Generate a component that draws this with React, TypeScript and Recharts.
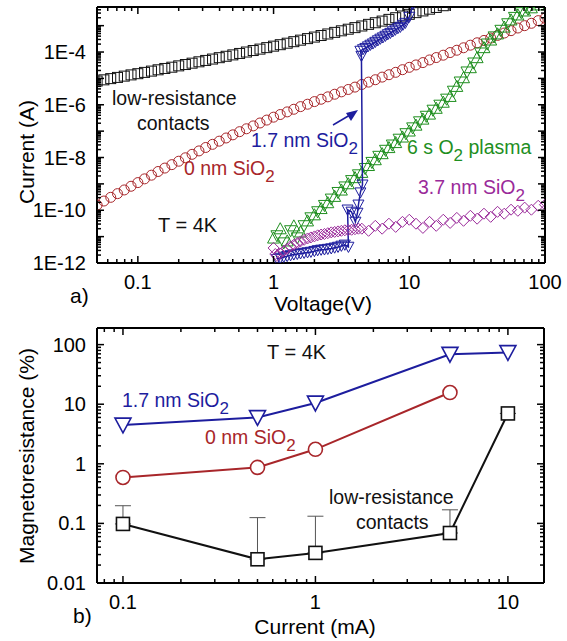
import React from 'react'
import { ScatterChart, Scatter, XAxis, YAxis, ErrorBar } from 'recharts'

const FONT = '"Liberation Sans", Arial, Helvetica, sans-serif'
const BLACK = '#111111'
const RED = '#a8262a'
const BLUE = '#1d1d9e'
const GREEN = '#1f8f1f'
const PURPLE = '#9a2a9a'

// ---- panel a: I-V sweeps at 4 K ----
// log-spaced voltage grid of the sweeps (V)
const sweepVoltage = [
  0.0501, 0.0562, 0.0631, 0.0708, 0.0794, 0.0891, 0.1, 0.112, 0.126, 0.141,
  0.158, 0.178, 0.2, 0.224, 0.251, 0.282, 0.316, 0.355, 0.398, 0.447,
  0.501, 0.562, 0.631, 0.708, 0.794, 0.891, 1, 1.12, 1.26, 1.41,
  1.58, 1.78, 2, 2.24, 2.51, 2.82, 3.16, 3.55, 3.98, 4.47,
  5.01, 5.62, 6.31, 7.08, 7.94, 8.91, 10, 11.2, 12.6, 14.1,
  15.8, 17.8, 20, 22.4, 25.1, 28.2, 31.6, 35.5, 39.8, 44.7,
  50.1, 56.2, 63.1, 70.8, 79.4, 89.1, 100,
]

// low-resistance contacts (A), from sweepVoltage[0]
const contactsCurrent = [
  7.94e-6, 8.83e-6, 9.82e-6, 1.09e-5, 1.22e-5, 1.36e-5, 1.51e-5, 1.69e-5, 1.89e-5, 2.12e-5,
  2.38e-5, 2.66e-5, 2.99e-5, 3.36e-5, 3.78e-5, 4.26e-5, 4.8e-5, 5.41e-5, 6.11e-5, 6.9e-5,
  7.8e-5, 8.83e-5, 1.0e-4, 1.14e-4, 1.29e-4, 1.47e-4, 1.67e-4, 1.9e-4, 2.16e-4, 2.47e-4,
  2.82e-4, 3.23e-4, 3.69e-4, 4.23e-4, 4.84e-4, 5.56e-4, 6.38e-4, 7.33e-4, 8.43e-4, 9.72e-4,
  1.12e-3, 1.29e-3, 1.49e-3, 1.73e-3, 2.0e-3, 2.32e-3, 2.69e-3, 3.12e-3, 3.62e-3, 4.22e-3,
  4.9e-3, 5.71e-3,
]

// 0 nm SiO2 (A), from sweepVoltage[0]
const plainCurrent = [
  1.58e-10, 2.24e-10, 3.09e-10, 4.27e-10, 5.89e-10, 8.13e-10, 1.12e-9, 1.55e-9, 2.14e-9, 2.95e-9,
  3.98e-9, 5.37e-9, 7.24e-9, 9.77e-9, 1.32e-8, 1.78e-8, 2.4e-8, 3.16e-8, 4.17e-8, 5.5e-8,
  7.24e-8, 9.55e-8, 1.23e-7, 1.58e-7, 2.04e-7, 2.63e-7, 3.39e-7, 4.27e-7, 5.37e-7, 6.76e-7,
  8.51e-7, 1.05e-6, 1.32e-6, 1.62e-6, 2.0e-6, 2.51e-6, 3.09e-6, 3.8e-6, 4.68e-6, 5.89e-6,
  7.24e-6, 8.91e-6, 1.12e-5, 1.38e-5, 1.7e-5, 2.14e-5, 2.63e-5, 3.24e-5, 3.98e-5, 5.01e-5,
  6.17e-5, 7.59e-5, 9.55e-5, 1.17e-4, 1.45e-4, 1.82e-4, 2.24e-4, 2.75e-4, 3.39e-4, 4.27e-4,
  5.25e-4, 6.46e-4, 8.13e-4, 1.0e-3, 1.23e-3, 1.55e-3, 1.91e-3,
]

// 6 s O2 plasma, up sweep (A), from sweepVoltage[26] = 1 V
const plasmaUpCurrent = [
  8.91e-12, 2.0e-11, 6.92e-12, 2.57e-11, 1.51e-11, 3.98e-11, 6.76e-11, 1.17e-10, 1.95e-10, 3.39e-10,
  5.89e-10, 1.02e-9, 1.74e-9, 2.75e-9, 5.01e-9, 8.32e-9, 1.41e-8, 2.4e-8, 3.72e-8, 6.03e-8,
  1.02e-7, 1.7e-7, 2.88e-7, 4.47e-7, 7.41e-7, 1.26e-6, 2.09e-6, 5.01e-6, 1.07e-5, 2.57e-5,
  6.17e-5, 1.48e-4, 2.88e-4, 4.9e-4, 8.91e-4, 1.66e-3, 2.57e-3, 3.63e-3, 4.79e-3, 6.17e-3,
]

// 6 s O2 plasma, down sweep
const plasmaDownVoltage = [
  1.059, 1.189, 1.334, 1.496, 1.679, 1.884, 2.113, 2.371, 2.661, 2.985,
  3.35, 3.758, 4.217, 4.732, 5.309, 5.957, 6.683, 7.499, 8.414, 9.441,
  10.59, 11.89, 13.34, 14.96, 16.79, 18.84, 21.13, 23.71, 26.61, 29.85,
  33.5, 37.58, 42.17, 47.32, 53.09, 59.57, 66.83, 74.99,
]
const plasmaDownCurrent = [
  1.07e-11, 5.75e-12, 1.66e-11, 8.91e-12, 2.57e-11, 5.13e-11, 8.71e-11, 1.51e-10, 2.63e-10, 4.68e-10,
  7.59e-10, 1.32e-9, 2.19e-9, 3.8e-9, 6.46e-9, 1.1e-8, 1.86e-8, 2.95e-8, 4.9e-8, 7.94e-8,
  1.32e-7, 2.24e-7, 3.63e-7, 6.17e-7, 9.55e-7, 1.62e-6, 3.24e-6, 7.24e-6, 1.74e-5, 3.8e-5,
  9.12e-5, 2.0e-4, 3.72e-4, 6.61e-4, 1.17e-3, 2.04e-3, 3.09e-3, 4.17e-3,
]

// 1.7 nm SiO2, in measurement order (switches near 4.4 V)
const thinOxideVoltage = [
  1.059, 1.12, 1.189, 1.26, 1.334, 1.41, 1.496, 1.58, 1.679, 1.78,
  1.884, 2.0, 2.113, 2.24, 2.371, 2.51, 2.661, 2.82, 2.985, 3.16,
  3.35, 3.56, 3.51, 3.75, 4.01, 4.15, 4.22, 4.36, 4.52, 4.44,
  4.36, 4.56, 4.75, 4.96, 5.17, 5.4, 5.62, 5.87, 6.12, 6.39,
  6.67, 6.95, 7.25, 7.57, 7.89, 8.24, 8.59, 8.97, 9.35, 10.0,
  10.7,
]
const thinOxideCurrent = [
  1.41e-12, 1.55e-12, 1.7e-12, 1.82e-12, 1.95e-12, 2.09e-12, 2.19e-12, 2.29e-12, 2.4e-12, 2.51e-12,
  2.63e-12, 2.82e-12, 3.02e-12, 3.16e-12, 3.24e-12, 3.39e-12, 3.55e-12, 3.8e-12, 4.07e-12, 4.47e-12,
  4.9e-12, 4.07e-12, 1.05e-10, 8.71e-11, 3.63e-11, 7.94e-11, 1.62e-10, 4.68e-10, 9.33e-10, 7.08e-5,
  1.1e-4, 1.26e-4, 1.41e-4, 1.62e-4, 1.86e-4, 2.09e-4, 2.4e-4, 2.75e-4, 3.16e-4, 3.55e-4,
  4.07e-4, 4.68e-4, 5.25e-4, 6.03e-4, 6.92e-4, 7.94e-4, 8.91e-4, 1.07e-3, 1.26e-3, 2.14e-3,
  6.76e-3,
]

// 3.7 nm SiO2
const thickOxideVoltage = [
  1.0, 1.03, 1.059, 1.12, 1.189, 1.26, 1.334, 1.41, 1.496, 1.58,
  1.679, 1.78, 1.884, 2.0, 2.113, 2.24, 2.371, 2.51, 2.661, 2.82,
  2.985, 3.16, 3.35, 3.55, 3.758, 3.98, 4.217, 4.47, 5.01, 5.62,
  6.31, 7.08, 7.94, 8.91, 10, 11.2, 12.6, 14.1, 15.8, 17.8,
  20, 22.4, 25.1, 28.2, 31.6, 35.5, 39.8, 44.7, 50.1, 56.2,
  63.1, 70.8, 79.4, 89.1, 100,
]
const thickOxideCurrent = [
  3.72e-12, 2.19e-12, 1.86e-12, 2.29e-12, 2.88e-12, 3.47e-12, 4.27e-12, 4.9e-12, 5.75e-12, 6.61e-12,
  7.59e-12, 8.51e-12, 9.33e-12, 1.02e-11, 1.12e-11, 1.2e-11, 1.26e-11, 1.35e-11, 1.45e-11, 1.51e-11,
  1.58e-11, 1.66e-11, 1.74e-11, 1.78e-11, 1.82e-11, 1.91e-11, 2.0e-11, 2.0e-11, 1.66e-11, 2.57e-11,
  2.0e-11, 3.09e-11, 2.34e-11, 3.63e-11, 4.37e-11, 3.09e-11, 2.14e-11, 3.63e-11, 2.57e-11, 4.37e-11,
  3.31e-11, 5.13e-11, 3.98e-11, 6.17e-11, 4.79e-11, 7.41e-11, 5.62e-11, 8.71e-11, 7.41e-11, 1.05e-10,
  9.55e-11, 1.26e-10, 1.05e-10, 1.48e-10, 1.62e-10,
]

const voltageTicks = [0.1, 1, 10, 100]
const voltageTickLabels = ['0.1', '1', '10', '100']
const currentTicks = [1e-12, 1e-10, 1e-8, 1e-6, 1e-4]
const currentTickLabels = ['1E-12', '1E-10', '1E-8', '1E-6', '1E-4']

// ---- panel b: magnetoresistance vs bias current ----
const biasCurrent = [0.1, 0.5, 1, 5, 10]
const mrThinOxide = [4.5, 6.0, 10.5, 69, 74]
const mrPlain = [0.59, 0.87, 1.75, 15.7]
const mrContacts = [0.098, 0.025, 0.032, 0.069, 7.0]
const mrContactsErr = [0.1, 0.1, 0.1, 0.1, 0]

const biasTicks = [0.1, 1, 10]
const biasTickLabels = ['0.1', '1', '10']
const mrTicks = [0.01, 0.1, 1, 10, 100]
const mrTickLabels = ['0.01', '0.1', '1', '10', '100']

type Row = { x: number; y: number; err?: number[] }
const zip = (xs: number[], ys: number[]): Row[] => ys.map((y, i) => ({ x: xs[i], y }))

const contactsRows = zip(sweepVoltage, contactsCurrent)
const plainRows = zip(sweepVoltage, plainCurrent)
const plasmaUpRows = zip(sweepVoltage.slice(26), plasmaUpCurrent)
const plasmaDownRows = zip(plasmaDownVoltage, plasmaDownCurrent)
const thinOxideRows = zip(thinOxideVoltage, thinOxideCurrent)
const thickOxideRows = zip(thickOxideVoltage, thickOxideCurrent)

const mrThinRows = zip(biasCurrent, mrThinOxide)
const mrPlainRows = zip(biasCurrent, mrPlain)
const mrContactRows: Row[] = biasCurrent.map((x, i) => ({ x, y: mrContacts[i], err: [0, mrContactsErr[i]] }))

// minor + major log ticks inside [lo, hi]
function logTicks(lo: number, hi: number) {
  const out: number[] = []
  for (let k = Math.floor(Math.log10(lo)); k <= Math.ceil(Math.log10(hi)); k++) {
    for (let m = 1; m <= 9; m++) {
      const v = Number((m * Math.pow(10, k)).toPrecision(4))
      if (v >= lo * 0.9999 && v <= hi * 1.0001) out.push(v)
    }
  }
  return out
}

type Side = 'bottom' | 'top' | 'left' | 'right'

function makeTick(side: Side, values: number[] = [], texts: string[] = []) {
  return (p: any) => {
    const { x, y, payload } = p
    const v = payload.value
    const lg = Math.log10(v)
    const len = Math.abs(lg - Math.round(lg)) < 1e-6 ? 7 : 4
    const i = values.findIndex((t) => Math.abs(t - v) <= t * 1e-6)
    let x2 = x
    let y2 = y
    if (side === 'bottom') y2 = y - len
    if (side === 'top') y2 = y + len
    if (side === 'left') x2 = x + len
    if (side === 'right') x2 = x - len
    return (
      <g>
        <line x1={x} y1={y} x2={x2} y2={y2} stroke="#000" strokeWidth={1.5} />
        {i >= 0 && side === 'bottom' && (
          <text x={x} y={y + 26} textAnchor="middle" fontSize={20} fontFamily={FONT} fill="#000">
            {texts[i]}
          </text>
        )}
        {i >= 0 && side === 'left' && (
          <text x={x - 11} y={y + 7} textAnchor="end" fontSize={20} fontFamily={FONT} fill="#000">
            {texts[i]}
          </text>
        )}
      </g>
    )
  }
}

type Kind = 'square' | 'circle' | 'up' | 'down' | 'diamond'

function marker(kind: Kind, size: number, color: string, width = 1, fill = 'none') {
  return (p: any) => {
    const { cx, cy } = p
    if (!Number.isFinite(cx) || !Number.isFinite(cy)) return <g />
    const h = size / 2
    const common = { fill, stroke: color, strokeWidth: width }
    if (kind === 'square') return <rect x={cx - h} y={cy - h} width={size} height={size} {...common} />
    if (kind === 'circle') return <circle cx={cx} cy={cy} r={h} {...common} />
    if (kind === 'diamond')
      return <polygon points={`${cx},${cy - h} ${cx + h},${cy} ${cx},${cy + h} ${cx - h},${cy}`} {...common} />
    const d = kind === 'up' ? 1 : -1
    return (
      <polygon
        points={`${cx},${cy - d * h} ${cx + h},${cy + d * h * 0.85} ${cx - h},${cy + d * h * 0.85}`}
        {...common}
      />
    )
  }
}

const axisLine = { stroke: '#000', strokeWidth: 2 }

// box frame: four log axes of 1px thickness, ticks drawn inward by makeTick
function frameAxes(xDomain: number[], yDomain: number[], xTicks: number[], yTicks: number[],
  xLabels: [number[], string[]], yLabels: [number[], string[]]) {
  const common = { type: 'number' as const, scale: 'log' as const, allowDataOverflow: true,
    tickLine: false, tickSize: 0, tickMargin: 0, interval: 0 as const, axisLine }
  return [
    <XAxis key="xb" xAxisId="main" dataKey="x" orientation="bottom" height={1} domain={xDomain}
      ticks={xTicks} tick={makeTick('bottom', xLabels[0], xLabels[1])} {...common} />,
    <XAxis key="xt" xAxisId="top" dataKey="x" orientation="top" height={1} domain={xDomain}
      ticks={xTicks} tick={makeTick('top')} {...common} />,
    <YAxis key="yl" yAxisId="main" dataKey="y" orientation="left" width={1} domain={yDomain}
      ticks={yTicks} tick={makeTick('left', yLabels[0], yLabels[1])} {...common} />,
    <YAxis key="yr" yAxisId="right" dataKey="y" orientation="right" width={1} domain={yDomain}
      ticks={yTicks} tick={makeTick('right')} {...common} />,
  ]
}

const ivX = [0.05, 100]
const ivY = [1e-12, 5.1e-3]
const mrX = [0.0733, 15.4]
const mrY = [0.01, 190]

function Sub({ children }: { children: React.ReactNode }) {
  return (
    <tspan dy={7} fontSize={17}>
      {children}
    </tspan>
  )
}

export default function App() {
  return (
    <div style={{ position: 'absolute', left: 0, top: 0, width: 567, height: 641, background: '#fff' }}>
      <div style={{ position: 'absolute', left: 0, top: 0 }}>
        <ScatterChart width={567} height={300} margin={{ top: 6, right: 21, bottom: 36, left: 96 }}>
          {frameAxes(ivX, ivY, logTicks(ivX[0], ivX[1]), logTicks(ivY[0], ivY[1]),
            [voltageTicks, voltageTickLabels], [currentTicks, currentTickLabels])}
          <Scatter xAxisId="main" yAxisId="main" data={contactsRows} isAnimationActive={false}
            shape={marker('square', 10, BLACK, 1)} />
          <Scatter xAxisId="main" yAxisId="main" data={plainRows} isAnimationActive={false}
            shape={marker('circle', 10, RED, 1)} />
          <Scatter xAxisId="main" yAxisId="main" data={plasmaUpRows} isAnimationActive={false}
            shape={marker('up', 12, GREEN, 1)} />
          <Scatter xAxisId="main" yAxisId="main" data={plasmaDownRows} isAnimationActive={false}
            shape={marker('down', 12, GREEN, 1)} />
          <Scatter xAxisId="main" yAxisId="main" data={thinOxideRows} isAnimationActive={false}
            line={{ stroke: BLUE, strokeWidth: 1.5 }} shape={marker('down', 11, BLUE, 1)} />
          <Scatter xAxisId="main" yAxisId="main" data={thickOxideRows} isAnimationActive={false}
            shape={marker('diamond', 11, PURPLE, 1)} />
        </ScatterChart>
      </div>

      <div style={{ position: 'absolute', left: 0, top: 300 }}>
        <ScatterChart width={567} height={341} margin={{ top: 27, right: 22, bottom: 57, left: 96 }}>
          {frameAxes(mrX, mrY, logTicks(mrX[0], mrX[1]), logTicks(mrY[0], mrY[1]),
            [biasTicks, biasTickLabels], [mrTicks, mrTickLabels])}
          <Scatter xAxisId="main" yAxisId="main" data={mrContactRows} isAnimationActive={false}
            line={{ stroke: BLACK, strokeWidth: 2 }} shape={marker('square', 13, BLACK, 1.6, '#fff')}>
            <ErrorBar dataKey="err" direction="y" width={8} stroke="#555" strokeWidth={1} />
          </Scatter>
          <Scatter xAxisId="main" yAxisId="main" data={mrPlainRows} isAnimationActive={false}
            line={{ stroke: RED, strokeWidth: 2 }} shape={marker('circle', 14, RED, 1.6, '#fff')} />
          <Scatter xAxisId="main" yAxisId="main" data={mrThinRows} isAnimationActive={false}
            line={{ stroke: BLUE, strokeWidth: 2 }} shape={marker('down', 16, BLUE, 1.6, '#fff')} />
        </ScatterChart>
      </div>

      <svg width={567} height={641} fontFamily={FONT}
        style={{ position: 'absolute', left: 0, top: 0, pointerEvents: 'none' }}>
        {/* panel a */}
        <text x={70} y={303} fontSize={21}>a)</text>
        <text x={323} y={311} fontSize={21} textAnchor="middle">Voltage(V)</text>
        <text x={34} y={152} fontSize={21} textAnchor="middle" transform="rotate(-90 34 152)">Current (A)</text>
        <text x={112} y={105} fontSize={19.5} fill={BLACK}>low-resistance</text>
        <text x={137} y={130} fontSize={19.5} fill={BLACK}>contacts</text>
        <text x={251} y={147} fontSize={19.5} fill={BLUE}>1.7 nm SiO<Sub>2</Sub></text>
        <text x={184} y={175} fontSize={19.5} fill={RED}>0 nm SiO<Sub>2</Sub></text>
        <text x={407} y={154} fontSize={19.5} fill={GREEN}>
          6 s O<Sub>2</Sub><tspan dy={-7}>{' plasma'}</tspan>
        </text>
        <text x={418} y={194} fontSize={19.5} fill={PURPLE}>3.7 nm SiO<Sub>2</Sub></text>
        <text x={158} y={232} fontSize={20} fill={BLACK}>T = 4K</text>
        <line x1={333} y1={125} x2={350} y2={115} stroke={BLUE} strokeWidth={1.5} />
        <polygon points="358,110 346,113 351,121" fill={BLUE} />

        {/* panel b */}
        <text x={73} y={623} fontSize={21}>b)</text>
        <text x={315} y={634} fontSize={21} textAnchor="middle">Current (mA)</text>
        <text x={34} y={456} fontSize={21} textAnchor="middle" transform="rotate(-90 34 456)">
          Magnetoresistance (%)
        </text>
        <text x={267} y={359} fontSize={20} fill={BLACK}>T = 4K</text>
        <text x={122} y={407} fontSize={19.5} fill={BLUE}>1.7 nm SiO<Sub>2</Sub></text>
        <text x={205} y={444} fontSize={19.5} fill={RED}>0 nm SiO<Sub>2</Sub></text>
        <text x={329} y={504} fontSize={19.5} fill={BLACK}>low-resistance</text>
        <text x={356} y={529} fontSize={19.5} fill={BLACK}>contacts</text>
      </svg>
    </div>
  )
}
